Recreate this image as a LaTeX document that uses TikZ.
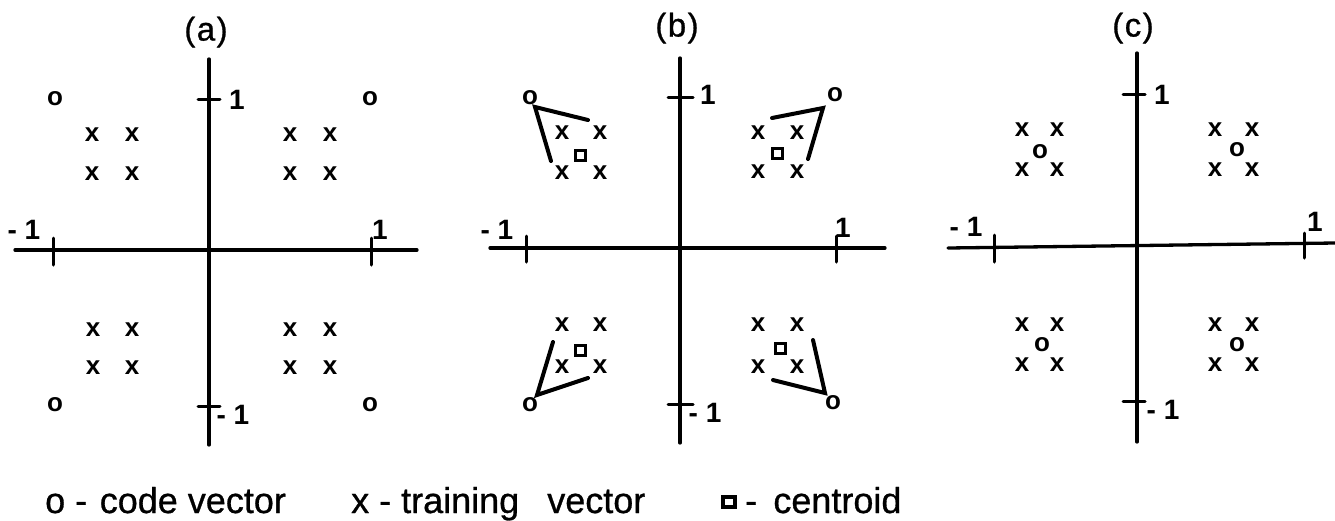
\documentclass[tikz,border=0pt]{standalone}
\usepackage{fontspec}
\setmainfont{Liberation Sans}
\newfontfamily\heavyfont[FakeBold=0.8]{Liberation Sans}
\begin{document}
\begin{tikzpicture}[x=1pt,y=-1pt,
  axis/.style={line width=3.3pt,line cap=round},
  axtick/.style={line width=3pt,line cap=round},
  hull/.style={line width=4pt,line cap=round},
  xmark/.style={inner sep=0pt,font=\fontsize{26}{26}\selectfont\bfseries},
  omark/.style={inner sep=0pt,font=\fontsize{26}{26}\selectfont\bfseries},
  cent/.style={draw,line width=3pt,minimum width=10pt,minimum height=10pt,inner sep=0pt},
  lbl/.style={inner sep=0pt,font=\fontsize{28}{28}\selectfont\bfseries},
  ttl/.style={inner sep=0pt,font=\fontsize{33}{33}\selectfont\heavyfont},
  leg/.style={inner sep=0pt,font=\fontsize{36}{36}\selectfont\heavyfont}]
\useasboundingbox (0,0) rectangle (1335,520);

% ---------------- panel (a)
\node[ttl] (ta) at (206,32) {(\kern1.5pt a\kern1.5pt)};
\coordinate (aL) at (15,250); \coordinate (aR) at (417,250);
\coordinate (aT) at (209,59); \coordinate (aB) at (209,445);
\draw[axis] (aL) -- (aR); \draw[axis] (aT) -- (aB);
\coordinate (aXm1t) at (53,238); \coordinate (aXm1b) at (53,265);
\coordinate (aXp1t) at (371,238); \coordinate (aXp1b) at (371,265);
\coordinate (aYp1l) at (198,99); \coordinate (aYp1r) at (220,99);
\coordinate (aYm1l) at (198,406); \coordinate (aYm1r) at (220,406);
\draw[axtick] (aXm1t) -- (aXm1b); \draw[axtick] (aXp1t) -- (aXp1b);
\draw[axtick] (aYp1l) -- (aYp1r); \draw[axtick] (aYm1l) -- (aYm1r);
\node[lbl] (la1) at (237,100) {1};
\node[lbl] (la2) at (233,415) {- 1};
\node[lbl] (la3) at (24,230) {- 1};
\node[lbl] (la4) at (380,230) {1};
\foreach \n/\x/\y in {1/55/99,2/370/99,3/55/405,4/370/405}
  \node[omark] (ao\n) at (\x,\y) {o};
\foreach \n/\x/\y in {1/92/135,2/132/135,3/92/174,4/132/174,
                      5/290/135,6/330/135,7/290/174,8/330/174,
                      9/93/330,10/132/330,11/93/368,12/132/368,
                      13/290/330,14/330/330,15/290/368,16/330/368}
  \node[xmark] (ax\n) at (\x,\y) {x};

% ---------------- panel (b)
\node[ttl] (tb) at (677,28) {(\kern1.5pt b\kern1.5pt)};
\coordinate (bL) at (490,248); \coordinate (bR) at (885,248);
\coordinate (bT) at (680,58); \coordinate (bB) at (680,443);
\draw[axis] (bL) -- (bR); \draw[axis] (bT) -- (bB);
\coordinate (bXm1t) at (526,236); \coordinate (bXm1b) at (526,262);
\coordinate (bXp1t) at (836,236); \coordinate (bXp1b) at (836,262);
\coordinate (bYp1l) at (668,97); \coordinate (bYp1r) at (693,97);
\coordinate (bYm1l) at (668,404); \coordinate (bYm1r) at (693,404);
\draw[axtick] (bXm1t) -- (bXm1b); \draw[axtick] (bXp1t) -- (bXp1b);
\draw[axtick] (bYp1l) -- (bYp1r); \draw[axtick] (bYm1l) -- (bYm1r);
\node[lbl] (lb1) at (708,95) {1};
\node[lbl] (lb2) at (705,413) {- 1};
\node[lbl] (lb3) at (497,230) {- 1};
\node[lbl] (lb4) at (843,228) {1};
\foreach \n/\x/\y in {1/530/98,2/835/95,3/530/405,4/833/403}
  \node[omark] (bo\n) at (\x,\y) {o};
\foreach \n/\x/\y in {1/562/133,2/600/133,3/562/173,4/600/173,
                      5/758/133,6/797/133,7/758/172,8/797/172,
                      9/562/325,10/600/325,11/562/367,12/600/367,
                      13/758/325,14/797/325,15/758/367,16/797/367}
  \node[xmark] (bx\n) at (\x,\y) {x};
\foreach \n/\x/\y in {1/580/155,2/777/153,3/580/350,4/780/348}
  \node[cent] (bc\n) at (\x,\y) {};
% hull lines
\coordinate (h1v) at (535,107); \coordinate (h1a) at (588,120); \coordinate (h1b) at (551,161);
\coordinate (h2v) at (823,108); \coordinate (h2a) at (772,118); \coordinate (h2b) at (808,159);
\coordinate (h3v) at (537,395); \coordinate (h3a) at (553,342); \coordinate (h3b) at (588,378);
\coordinate (h4v) at (825,393); \coordinate (h4a) at (813,340); \coordinate (h4b) at (773,380);
\foreach \h in {h1,h2,h3,h4}
  \draw[hull] (\h a) -- (\h v) -- (\h b);

% ---------------- panel (c)
\node[ttl] (tc) at (1133,28) {(\kern1.5pt c\kern1.5pt)};
\coordinate (cL) at (948,248); \coordinate (cR) at (1335,243);
\coordinate (cT) at (1137,53); \coordinate (cB) at (1137,442);
\draw[axis] (cL) -- (cR); \draw[axis] (cT) -- (cB);
\coordinate (cXm1t) at (994,235); \coordinate (cXm1b) at (994,262);
\coordinate (cXp1t) at (1304,233); \coordinate (cXp1b) at (1304,258);
\coordinate (cYp1l) at (1123,94); \coordinate (cYp1r) at (1145,94);
\coordinate (cYm1l) at (1123,401); \coordinate (cYm1r) at (1145,401);
\draw[axtick] (cXm1t) -- (cXm1b); \draw[axtick] (cXp1t) -- (cXp1b);
\draw[axtick] (cYp1l) -- (cYp1r); \draw[axtick] (cYm1l) -- (cYm1r);
\node[lbl] (lc1) at (1162,95) {1};
\node[lbl] (lc2) at (1163,410) {- 1};
\node[lbl] (lc3) at (966,227) {- 1};
\node[lbl] (lc4) at (1315,222) {1};
\foreach \n/\x/\y in {1/1040/152,2/1237/150,3/1042/345,4/1237/345}
  \node[omark] (co\n) at (\x,\y) {o};
\foreach \n/\x/\y in {1/1022/130,2/1057/130,3/1022/170,4/1057/170,
                      5/1215/130,6/1252/130,7/1215/170,8/1252/170,
                      9/1022/325,10/1057/325,11/1022/365,12/1057/365,
                      13/1215/325,14/1252/325,15/1215/365,16/1252/365}
  \node[xmark] (cx\n) at (\x,\y) {x};

% ---------------- legend
\node[leg,anchor=base west] (leg1) at (45,513) {o -\hspace{0.35em}code vector};
\node[leg,anchor=base west] (leg2) at (351,513) {x - training\hspace{0.78em}vector};
\node[draw,line width=3.5pt,minimum width=12pt,minimum height=10pt,inner sep=0pt] (legsq) at (729,502) {};
\node[leg,anchor=base west] (leg3) at (745,513) {-\hspace{0.45em}centroid};
\end{tikzpicture}
\end{document}
